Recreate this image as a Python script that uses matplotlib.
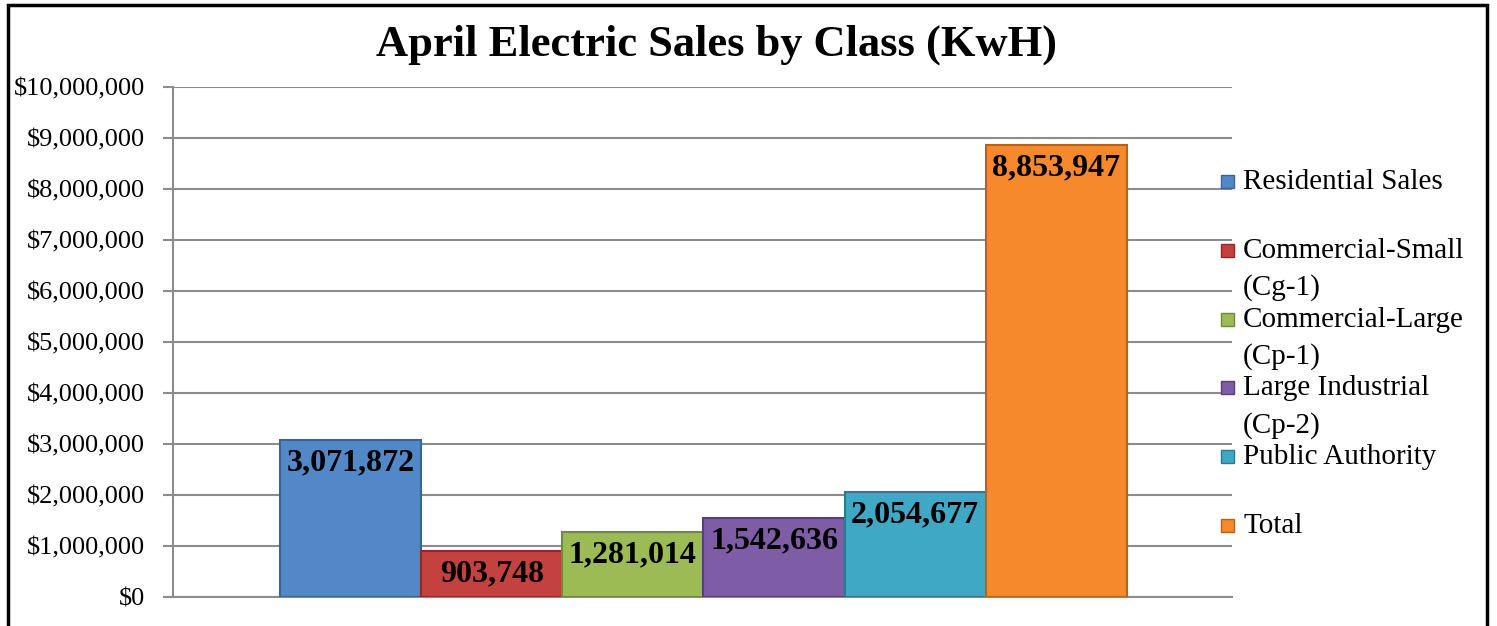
import matplotlib.pyplot as plt
from matplotlib.patches import Rectangle

# data
categories = ['Residential Sales', 'Commercial-Small\n(Cg-1)', 'Commercial-Large\n(Cp-1)',
              'Large Industrial\n(Cp-2)', 'Public Authority', 'Total']
sales = [3071872, 903748, 1281014, 1542636, 2054677, 8853947]
yticks = list(range(0, 10000001, 1000000))

colors = ['#5288C8', '#C3413E', '#9CBB55', '#7E5CA6', '#3FA8C4', '#F5892B']
edges = ['#3A6496', '#8E2A28', '#6F8A3A', '#573F78', '#2A7A90', '#B8621A']

plt.rcParams['font.family'] = ['Liberation Serif', 'DejaVu Serif']

W, H = 1497, 626
fig = plt.figure(figsize=(W / 100, H / 100), dpi=100)
ax = fig.add_axes([173 / W, 1 - 597 / H, (1232 - 173) / W, (597 - 87) / H])

x = list(range(len(sales)))
ax.bar(x, sales, width=1.0, color=colors, edgecolor=edges, linewidth=1.5, zorder=3)
for i, v in enumerate(sales):
    ax.annotate(f'{v:,}', (i, v), xytext=(0, -6), textcoords='offset points',
                ha='center', va='top', fontsize=23, fontweight='bold', zorder=4)

ax.set_xlim(-1.259, 6.245)
ax.set_ylim(0, 10000000)
ax.set_yticks(yticks)
ax.set_yticklabels([f'${t:,}' for t in yticks], fontsize=19)
ax.set_xticks([])
ax.grid(axis='y', color='#8C8C8C', linewidth=1.5, zorder=0)
ax.tick_params(axis='y', length=7, width=1.5, color='#8C8C8C', pad=13)
for s in ['top', 'right']:
    ax.spines[s].set_visible(False)
for s in ['left', 'bottom']:
    ax.spines[s].set_color('#8C8C8C')
    ax.spines[s].set_linewidth(1.5)

fig.text(717 / W, 1 - 45 / H, 'April Electric Sales by Class (KwH)',
         ha='center', va='center', fontsize=32, fontweight='bold')

# legend, Excel style: evenly spaced slots, marker on first line
y0, step, line_h = 182, 68.8, 37
for i, (lab, c, e) in enumerate(zip(categories, colors, edges)):
    yc = y0 + i * step
    fig.add_artist(Rectangle((1221 / W, 1 - (yc + 6) / H), 13 / W, 13 / H,
                             facecolor=c, edgecolor=e, linewidth=1,
                             transform=fig.transFigure))
    for j, line in enumerate(lab.split('\n')):
        fig.text(1243 / W, 1 - (yc + j * line_h) / H, line,
                 ha='left', va='center', fontsize=21)

# chart border (bottom edge is cropped off in the reference)
fig.add_artist(Rectangle((8 / W, -0.1), (1487 - 8) / W, 1.1 - 5 / H,
                         facecolor='none', edgecolor='black', linewidth=2.5,
                         transform=fig.transFigure))

fig.savefig('out.png', dpi=100)
